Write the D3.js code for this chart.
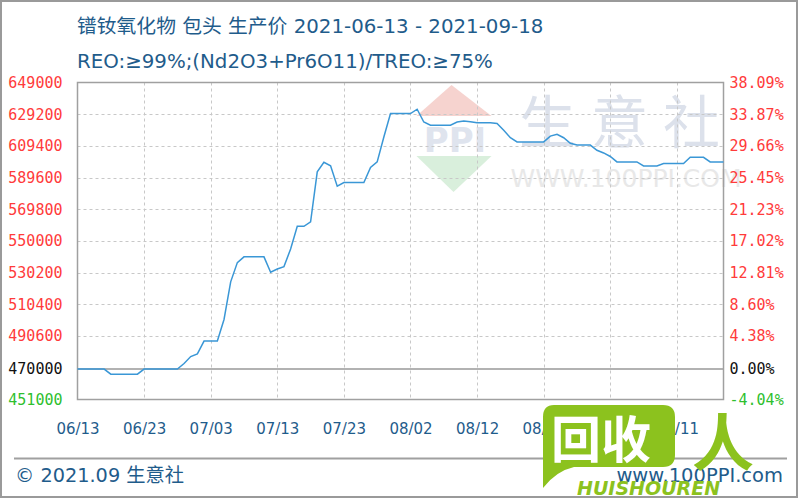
<!DOCTYPE html>
<html><head><meta charset="utf-8">
<script src="https://cdn.jsdelivr.net/npm/d3@7"></script>
<style>body{margin:0;background:#fff} svg{display:block}</style>
</head><body><svg id="c" width="800" height="500"></svg>
<script>
const titleLine1 = "镨钕氧化物 包头 生产价 2021-06-13 - 2021-09-18";
const titleLine2 = "REO:≥99%;(Nd2O3+Pr6O11)/TREO:≥75%";
const footerLeft = "© 2021.09 生意社";
const footerRight = "www.100PPI.com";
const startDate = "2021-06-13";
const endDate = "2021-09-18";
const baseValue = 470000;
// daily prices from 2021-06-13 to 2021-09-18
const prices = [
  470000,470000,470000,470000,470000,466800,466800,466800,466800,466800,
  470000,470000,470000,470000,470000,470000,473500,477800,479500,487500,
  487500,487500,501000,524500,536500,540100,540100,540100,540100,530500,
  532500,534000,545000,559200,559200,562000,593200,599200,597000,584200,
  586500,586500,586500,586500,596000,599400,615000,629600,629600,629600,
  629600,632300,624300,622300,622300,622300,622300,624300,625000,624500,
  623800,623800,623800,623400,619200,614500,611900,611900,611900,611900,
  611900,615500,616700,614500,611000,609900,609900,609900,606700,605000,
  602800,599400,599400,599400,599400,596900,596900,596900,598400,598400,
  598400,598400,602300,602300,602300,599400,599400,599400
];
const leftTicks = [649000,629200,609400,589600,569800,550000,530200,510400,490600,470000,451000];
const rightTicks = [38.09,33.87,29.66,25.45,21.23,17.02,12.81,8.60,4.38,0.00,-4.04];
const xTicks = ["2021-06-13","2021-06-23","2021-07-03","2021-07-13","2021-07-23","2021-08-02","2021-08-12","2021-08-22","2021-09-01","2021-09-11"];

const parse = d3.timeParse("%Y-%m-%d");
const t0 = parse(startDate), t1 = parse(endDate);
const series = prices.map((v,i)=>({date:d3.timeDay.offset(t0,i), value:v}));

const svg = d3.select("#c");
const W=800,H=500;
const L=77.5,R=723.5,T=82.5,B=399.5;
const blue="#1f5c8b", red="#ff3b3b", green="#2fbf2f";
const labelColor = (i,n)=> i===n-1 ? green : (i===n-2 ? "#111" : red);

svg.append("rect").attr("width",W).attr("height",H).attr("fill","#fff");
svg.append("rect").attr("x",1).attr("y",1).attr("width",796).attr("height",496)
  .attr("fill","none").attr("stroke","#9a9a9a").attr("stroke-width",2);

const x = d3.scaleTime().domain([t0,t1]).range([L,R]);
const y = d3.scaleLinear().domain([451000,649000]).range([B,T]);
const yr = d3.scaleLinear().domain([-4.04,38.09]).range([B,T]);

// watermark
const wm = svg.append("g");
wm.append("path").attr("d",`M451.5,85 L491.5,116 L416.5,116 Z`).attr("fill","#f6d3cf");
wm.append("text").attr("x",455).attr("y",152).attr("text-anchor","middle")
  .attr("font-family","DejaVu Sans").attr("font-weight","bold").attr("font-size",34)
  .attr("fill","#dfe4ee").text("PPI");
wm.append("path").attr("d",`M416.5,156 L491.5,156 L453.5,192 Z`).attr("fill","#d9efdc");
wm.append("text").attr("x",627).attr("y",143).attr("text-anchor","middle")
  .attr("font-family","Noto Sans CJK SC").attr("font-size",57).attr("letter-spacing",15)
  .attr("fill","#dce1eb").text("生意社");
wm.append("text").attr("x",626).attr("y",187).attr("text-anchor","middle")
  .attr("font-family","DejaVu Sans").attr("font-size",25)
  .attr("fill","#e8e8e8").text("WWW.100PPI.COM");

// grid
const grid = svg.append("g").attr("stroke","#c8c8c8").attr("stroke-dasharray","3,3").attr("stroke-width",1);
leftTicks.filter(v=>v!==649000 && v!==451000 && v!==baseValue).forEach(v=>{
  grid.append("line").attr("x1",L).attr("x2",R).attr("y1",Math.round(y(v))+0.5).attr("y2",Math.round(y(v))+0.5);
});
xTicks.slice(1).forEach(s=>{
  const xx=Math.round(x(parse(s)))+0.5;
  grid.append("line").attr("x1",xx).attr("x2",xx).attr("y1",T).attr("y2",B);
});
// base line
svg.append("line").attr("x1",L).attr("x2",R).attr("y1",y(baseValue)).attr("y2",y(baseValue))
  .attr("stroke","#999").attr("stroke-width",1.5);
// border
svg.append("rect").attr("x",L).attr("y",T).attr("width",R-L).attr("height",B-T)
  .attr("fill","none").attr("stroke","#a0a0a0").attr("stroke-width",1.5);

// line
svg.append("path").datum(series)
  .attr("d",d3.line().x(d=>x(d.date)).y(d=>y(d.value)))
  .attr("fill","none").attr("stroke","#3a97d6").attr("stroke-width",1.5);

// axes
const axL = svg.append("g").attr("transform",`translate(${L},0)`)
  .call(d3.axisLeft(y).tickValues(leftTicks).tickSize(0).tickPadding(15).tickFormat(d3.format("d")));
axL.select(".domain").remove();
axL.selectAll("text").attr("font-family","DejaVu Sans Mono").attr("font-size",15)
  .attr("fill",(d,i)=>labelColor(i,leftTicks.length));
const axR = svg.append("g").attr("transform",`translate(${R},0)`)
  .call(d3.axisRight(yr).tickValues(rightTicks).tickSize(0).tickPadding(6).tickFormat(d=>d.toFixed(2)+"%"));
axR.select(".domain").remove();
axR.selectAll("text").attr("font-family","DejaVu Sans Mono").attr("font-size",15)
  .attr("fill",(d,i)=>labelColor(i,rightTicks.length));
const axB = svg.append("g").attr("transform",`translate(0,${B})`)
  .call(d3.axisBottom(x).tickValues(xTicks.map(parse)).tickSize(0).tickPadding(24).tickFormat(d3.timeFormat("%m/%d")));
axB.select(".domain").remove();
axB.selectAll("text").attr("font-family","DejaVu Sans").attr("font-size",15).attr("fill",blue);

// titles
svg.append("text").attr("x",77).attr("y",33).attr("font-family","DejaVu Sans, Noto Sans CJK SC")
  .attr("font-size",19.8).attr("fill",blue).text(titleLine1);
svg.append("text").attr("x",77).attr("y",68).attr("font-family","DejaVu Sans, Noto Sans CJK SC")
  .attr("font-size",19.8).attr("fill",blue).text(titleLine2);

// footer
svg.append("line").attr("x1",14).attr("x2",787).attr("y1",458.5).attr("y2",458.5)
  .attr("stroke","#a0a0a0").attr("stroke-width",2);
svg.append("text").attr("x",15).attr("y",482).attr("font-family","DejaVu Sans, Noto Sans CJK SC")
  .attr("font-size",19.3).attr("fill",blue).text(footerLeft);
svg.append("text").attr("x",783).attr("y",482).attr("text-anchor","end").attr("font-family","DejaVu Sans")
  .attr("font-size",19.5).attr("fill",blue).text(footerRight);

// overlay logo
const lg = svg.append("g");
const gr="#8cc21e";
lg.append("path").attr("d","M554,405 H663 Q675,405 675,417 V455 Q675,467 663,467 H574 Q556,471 543,488 V417 Q543,405 554,405 Z").attr("fill",gr);
lg.append("text").attr("x",551).attr("y",458).attr("font-family","Noto Sans CJK SC").attr("font-weight","bold")
  .attr("font-size",50).attr("fill","#fff").text("回收");
lg.append("text").attr("x",692).attr("y",466).attr("font-family","Noto Sans CJK SC").attr("font-weight","bold")
  .attr("font-size",62).attr("fill",gr).text("人");
lg.append("text").attr("x",577).attr("y",495).attr("font-family","DejaVu Sans").attr("font-weight","bold")
  .attr("font-style","italic").attr("font-size",19).attr("fill",gr).text("HUISHOUREN");
</script></body></html>
